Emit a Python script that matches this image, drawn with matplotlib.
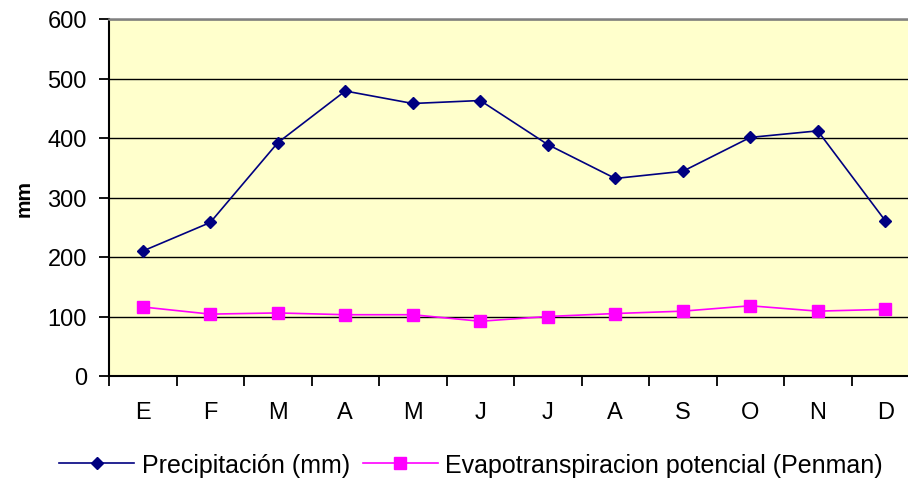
import matplotlib.pyplot as plt

meses = ["E", "F", "M", "A", "M", "J", "J", "A", "S", "O", "N", "D"]
precipitacion = [210, 258, 392, 479, 458, 463, 389, 332, 344, 401, 412, 261]
evapotranspiracion = [116, 104, 106, 103, 103, 92, 100, 105, 109, 118, 109, 112]

plt.rcParams['font.family'] = ['Liberation Sans', 'DejaVu Sans']

W, H = 908, 481
fig = plt.figure(figsize=(W / 100, H / 100), dpi=100)
# eje recortado a la derecha como en la imagen original
ax = fig.add_axes([109 / W, 1 - 377 / H, 810 / W, 357 / H])
ax.set_facecolor('#FFFFCC')

x = list(range(len(meses)))
ax.plot(x, precipitacion, color='#000080', marker='D', markersize=6.5, lw=1.2,
        label='Precipitación (mm)')
ax.plot(x, evapotranspiracion, color='#FF00FF', marker='s', markersize=8, lw=1.2,
        label='Evapotranspiracion potencial (Penman)')

ax.set_xlim(-0.5, 11.5)
ax.set_ylim(0, 600)
ax.set_yticks(range(0, 601, 100))
ax.set_xticks(x)
ax.set_xticklabels(meses)
ax.set_xticks([i - 0.5 for i in range(13)], minor=True)
ax.tick_params(axis='x', which='major', length=0, pad=18, labelsize=17)
ax.tick_params(axis='x', which='minor', length=7, width=1.3, direction='out')
ax.tick_params(axis='y', length=7, width=1.3, direction='out', labelsize=17, pad=9)

ax.grid(axis='y', color='black', lw=1)
ax.set_axisbelow(True)
ax.spines['right'].set_visible(False)
ax.spines['top'].set_color('#808080')
ax.spines['top'].set_linewidth(1.8)
ax.spines['left'].set_linewidth(1.5)
ax.spines['bottom'].set_linewidth(1.5)

ax.set_ylabel('mm', fontsize=15, fontweight='bold', labelpad=10)

fig.legend(loc='center', bbox_to_anchor=(471 / W, 1 - 466 / H), ncol=2,
           frameon=False, fontsize=18, handlelength=3.0, columnspacing=0.5,
           handletextpad=0.3)

fig.savefig('out.png', dpi=100)
